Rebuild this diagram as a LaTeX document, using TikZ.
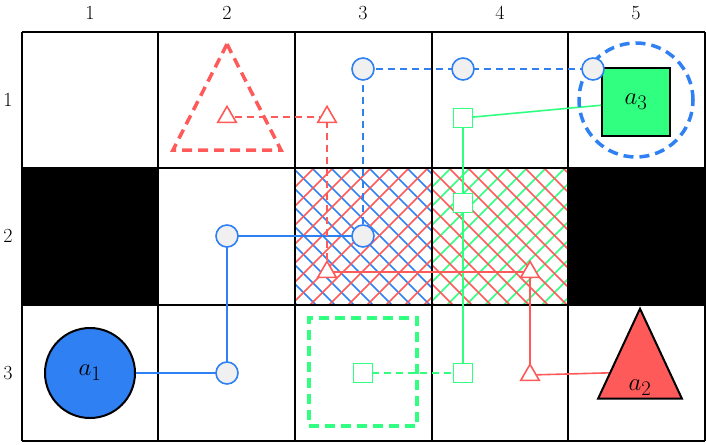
\documentclass[tikz,border=0pt]{standalone}
\usetikzlibrary{backgrounds,shapes.geometric}
\definecolor{agblue}{HTML}{2F80F2}
\definecolor{agred}{HTML}{FF5A5A}
\definecolor{aggreen}{HTML}{30FF80}
\tikzset{
  wpblue/.style={circle,draw=agblue,fill=gray!12,line width=1.6pt,minimum size=22pt,inner sep=0pt},
  wpred/.style={isosceles triangle,isosceles triangle apex angle=60,shape border rotate=90,draw=agred,fill=white,line width=1.6pt,minimum size=16pt,inner sep=0pt},
  wpgreen/.style={rectangle,draw=aggreen,fill=white,line width=1.6pt,minimum size=19pt,inner sep=0pt},
  path/.style={line width=1.6pt},
  pathdash/.style={line width=1.6pt,dash pattern=on 7pt off 5pt},
  bigdash/.style={line width=3.5pt,dash pattern=on 10pt off 6pt},
  gridline/.style={line width=2pt,black},
  lbl/.style={font=\fontsize{20}{24}\selectfont}
}
\begin{document}
\begin{tikzpicture}[x=1pt,y=-1pt]
\useasboundingbox (0,0) rectangle (706,444);
% labels
\foreach \c/\x in {1/90,2/227,3/363,4/500,5/636}
  \node[lbl] (col\c) at (\x,13) {\c};
\foreach \r/\y in {1/100,2/236,3/373}
  \node[lbl] (row\r) at (8,\y) {\r};

% agents and goals
\node[circle,draw=black,fill=agblue,line width=2pt,minimum size=90pt,inner sep=0pt,font=\fontsize{28}{30}\selectfont] (a1) at (90,373) {$a_1$};
\node[isosceles triangle,isosceles triangle apex angle=50,shape border rotate=90,draw=black,fill=agred,line width=2pt,minimum height=90pt,minimum width=80pt,inner sep=0pt] (a2) at (640,372) {};
\node[font=\fontsize{28}{30}\selectfont] (a2lbl) at (640,388) {$a_2$};
\node[rectangle,draw=black,fill=aggreen,line width=2pt,minimum size=68pt,inner sep=0pt,font=\fontsize{28}{30}\selectfont] (a3) at (636,102) {$a_3$};
\node[circle,draw=agblue,bigdash,minimum size=114pt,inner sep=0pt] (g3) at (636,100) {};
\node[rectangle,draw=aggreen,bigdash,minimum size=108pt,inner sep=0pt] (g1) at (363,372) {};
\node[isosceles triangle,isosceles triangle apex angle=54,shape border rotate=90,draw=agred,bigdash,minimum height=106pt,minimum width=107pt,inner sep=0pt] (g2) at (227,117) {};

% waypoints
\node[wpblue] (b1) at (227,373) {};
\node[wpblue] (b2) at (227,236) {};
\node[wpblue] (b3) at (363,236) {};
\node[wpblue] (b4) at (363,69) {};
\node[wpblue] (b5) at (463,69) {};
\node[wpblue] (b6) at (593,69) {};
\node[wpgreen] (q1) at (463,118) {};
\node[wpgreen] (q2) at (463,203) {};
\node[wpgreen] (q3) at (463,373) {};
\node[wpgreen] (q4) at (363,373) {};
\node[wpred] (t1) at (530,375) {};
\node[wpred] (t2) at (530,272) {};
\node[wpred] (t3) at (327,272) {};
\node[wpred] (t4) at (327,117) {};
\node[wpred] (t5) at (227,117) {};

\begin{pgfonlayer}{background}
% hatched cells
\begin{scope}
  \clip (295,168) rectangle (432,305);
  \foreach \k in {0,19,...,300}
    \draw[agblue,line width=1.5pt] (295,168+\k-150) -- ++(150,150);
  \foreach \k in {0,19,...,300}
    \draw[agred,line width=1.5pt] (295,168+\k) -- ++(150,-150);
\end{scope}
\begin{scope}
  \clip (432,168) rectangle (568,305);
  \foreach \k in {0,19,...,300}
    \draw[aggreen,line width=1.5pt] (432,168+\k) -- ++(150,-150);
  \foreach \k in {0,19,...,300}
    \draw[agred,line width=1.5pt] (432,168+\k-150) -- ++(150,150);
\end{scope}
% blocked cells
\fill[black] (22,168) rectangle (158,305);
\fill[black] (568,168) rectangle (705,305);
% grid
\foreach \x in {22,158,295,432,568,705}
  \draw[gridline] (\x,32) -- (\x,441);
\foreach \y in {32,168,305,441}
  \draw[gridline] (22,\y) -- (705,\y);
% paths
\draw[path,agblue] (a1) -- (b1.center) -- (b2.center) -- (b3.center);
\draw[pathdash,agblue] (b3.center) -- (b4.center) -- (b5.center) -- (b6.center);
\draw[path,aggreen] (a3) -- (q1.center) -- (q2.center) -- (q3.center);
\draw[pathdash,aggreen] (q3.center) -- (q4.center);
\draw[path,agred] (a2) -- (t1.center) -- (t2.center) -- (t3.center);
\draw[pathdash,agred] (t3.center) -- (t4.center) -- (t5.center);
\end{pgfonlayer}
\end{tikzpicture}
\end{document}
